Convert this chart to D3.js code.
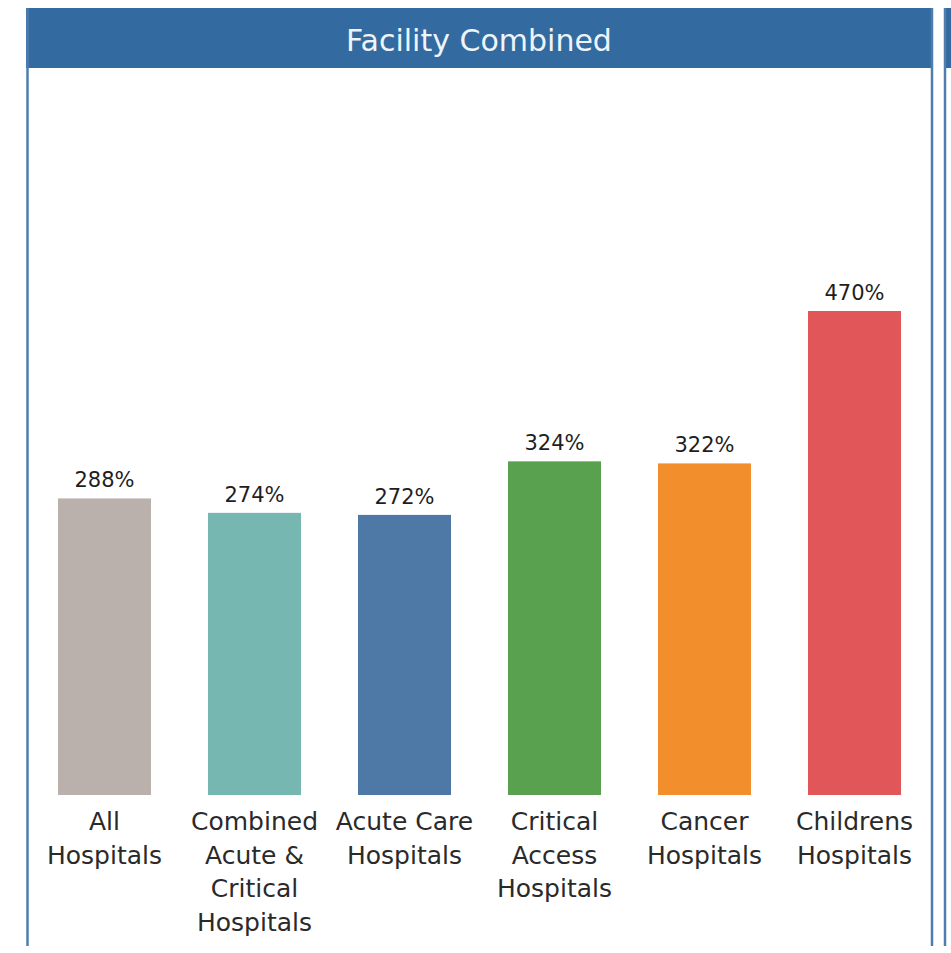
<!DOCTYPE html>
<meta charset="utf-8">
<script src="https://d3js.org/d3.v7.min.js"></script>
<style>
body { margin: 0; background: #fff; }
text { font-family: "DejaVu Sans", sans-serif; }
</style>
<div id="chart"></div>
<script>
var categories = ["All Hospitals", "Combined Acute & Critical Hospitals", "Acute Care Hospitals",
                  "Critical Access Hospitals", "Cancer Hospitals", "Childrens Hospitals"];
var labelLines = [["All", "Hospitals"], ["Combined", "Acute &", "Critical", "Hospitals"], ["Acute Care", "Hospitals"],
                  ["Critical", "Access", "Hospitals"], ["Cancer", "Hospitals"], ["Childrens", "Hospitals"]];
var values = [288, 274, 272, 324, 322, 470];
var colors = ["#bab0ac", "#76b7b2", "#4e79a7", "#59a14f", "#f28e2b", "#e15759"];

var W = 951, H = 953;
var svg = d3.select("#chart").append("svg").attr("width", W).attr("height", H);

// panel: header plus side borders (bottom is cut off)
svg.append("rect").attr("x", 26).attr("y", 8).attr("width", 907).attr("height", 60).attr("fill", "#336ba0");
svg.selectAll("line.side").data([27.5, 932]).enter().append("line").attr("class", "side")
  .attr("x1", function(d) { return d; }).attr("x2", function(d) { return d; })
  .attr("y1", 8).attr("y2", 946)
  .attr("stroke", "#4f7db0").attr("stroke-width", 2.5);
svg.append("text").attr("x", 479).attr("y", 51).attr("text-anchor", "middle")
  .attr("fill", "#eef4fa").style("font-size", "30px").text("Facility Combined");

// sliver of next panel
svg.append("rect").attr("x", 944).attr("y", 8).attr("width", 10).attr("height", 60).attr("fill", "#336ba0");
svg.append("line").attr("x1", 945).attr("x2", 945).attr("y1", 8).attr("y2", 946)
  .attr("stroke", "#4f7db0").attr("stroke-width", 2.5);

var x = d3.scaleBand().domain(categories).range([29.5, 929.5]).paddingInner(0.38).paddingOuter(0.19);
var y = d3.scaleLinear().domain([0, 470]).range([795, 311]);

var g = svg.append("g");
g.selectAll("rect.bar").data(values).enter().append("rect").attr("class", "bar")
  .attr("x", function(d, i) { return x(categories[i]); })
  .attr("width", x.bandwidth())
  .attr("y", function(d) { return y(d); })
  .attr("height", function(d) { return y(0) - y(d); })
  .attr("fill", function(d, i) { return colors[i]; });

g.selectAll("text.val").data(values).enter().append("text").attr("class", "val")
  .attr("x", function(d, i) { return x(categories[i]) + x.bandwidth() / 2; })
  .attr("y", function(d) { return y(d) - 11; })
  .attr("text-anchor", "middle").attr("fill", "#1e1e1e").style("font-size", "21px")
  .text(function(d) { return d + "%"; });

var lab = g.selectAll("text.cat").data(categories).enter().append("text").attr("class", "cat")
  .attr("x", function(d) { return x(d) + x.bandwidth() / 2; })
  .attr("y", 830)
  .attr("text-anchor", "middle").attr("fill", "#2a2a2a").style("font-size", "25px");
lab.selectAll("tspan").data(function(d, i) { return labelLines[i]; }).enter().append("tspan")
  .attr("x", function() { return d3.select(this.parentNode).attr("x"); })
  .attr("dy", function(d, i) { return i == 0 ? 0 : 33.5; })
  .text(function(d) { return d; });
</script>
